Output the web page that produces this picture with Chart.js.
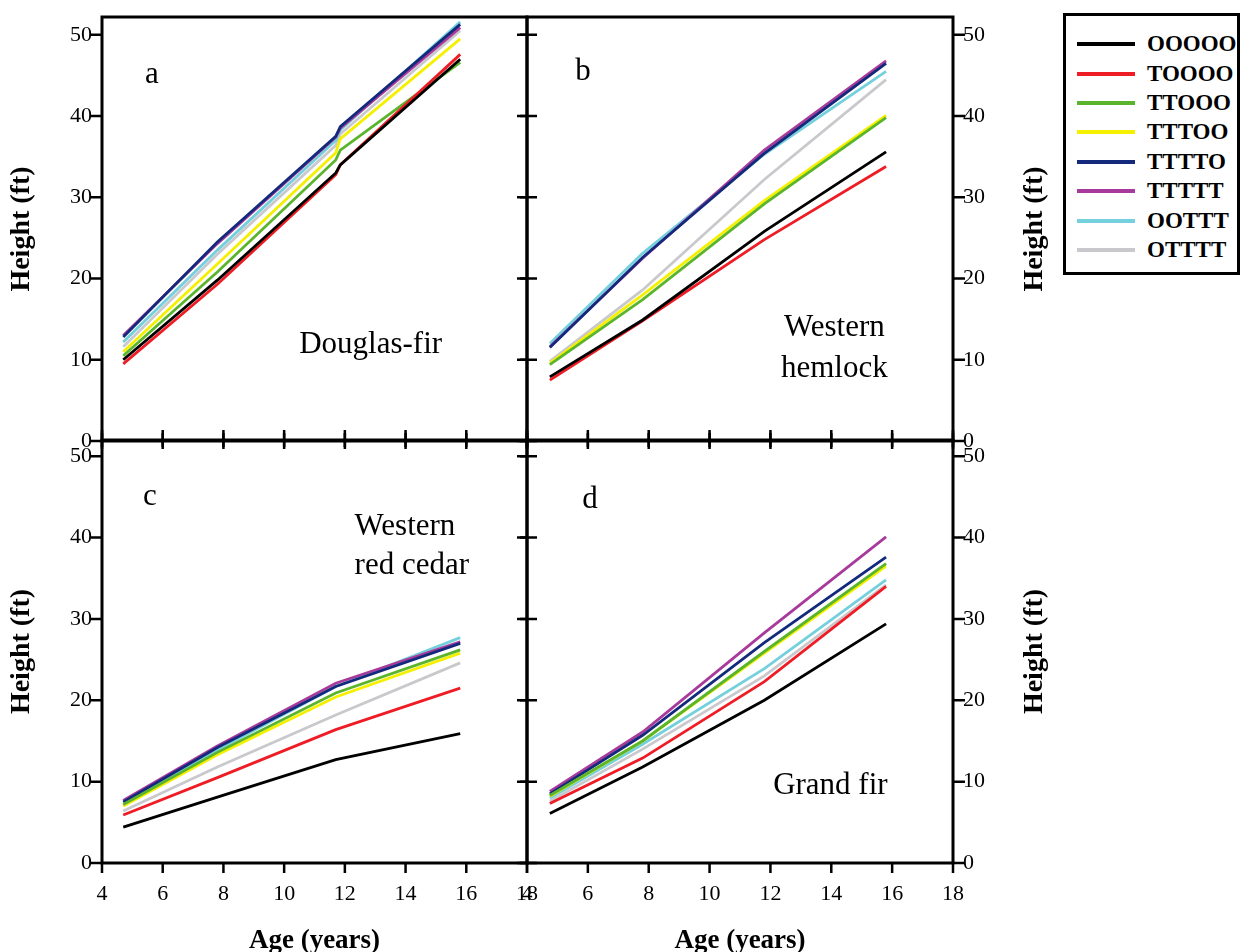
<!DOCTYPE html>
<html>
<head>
<meta charset="utf-8">
<script src="https://cdn.jsdelivr.net/npm/chart.js@4.4.0/dist/chart.umd.min.js"></script>
<style>
  html, body { margin: 0; padding: 0; background: #fff; width: 1243px; height: 952px; overflow: hidden; }
  canvas { position: absolute; }
  #legend { position: absolute; left: 1063px; top: 13px; width: 171px; height: 256px; border: 3px solid #000; background: #fff;
            font: bold 23px "Liberation Serif", "Times New Roman", serif; }
  #legend .row { position: absolute; left: 0; height: 26px; width: 171px; }
  #legend .swatch { position: absolute; left: 11px; top: 11px; width: 58px; height: 4px; }
  #legend .name { position: absolute; left: 81px; top: 0; line-height: 26px; }
</style>
</head>
<body>
<canvas id="panelA" width="560" height="470" style="left:0;top:0"></canvas>
<canvas id="panelB" width="580" height="470" style="left:480px;top:0"></canvas>
<canvas id="panelC" width="560" height="540" style="left:0;top:425px"></canvas>
<canvas id="panelD" width="580" height="540" style="left:480px;top:425px"></canvas>
<div id="legend"></div>
<script>
// treatment sequences (O = open, T = treated) and their line colours
const seriesNames = ['OOOOO', 'TOOOO', 'TTOOO', 'TTTOO', 'TTTTO', 'TTTTT', 'OOTTT', 'OTTTT'];
const seriesColors = ['#000000', '#ee1c25', '#5bb52c', '#f5f000', '#132a7c', '#a83a9c', '#74d0dc', '#c9c9cd'];

const xTicks = [4, 6, 8, 10, 12, 14, 16, 18];
const yTicks = [0, 10, 20, 30, 40, 50];

// stand age (years) and mean height (ft), one row per treatment sequence
const douglasAges = [4.7, 7.8, 11.7, 11.85, 15.8];
const douglasHeights = [
  [10.0, 19.8, 33.0, 34.0, 47.0],
  [9.5, 19.3, 32.8, 34.0, 47.6],
  [10.5, 20.8, 34.6, 35.8, 46.6],
  [11.0, 21.8, 35.5, 37.2, 49.5],
  [12.8, 24.5, 37.5, 38.7, 51.3],
  [13.0, 24.3, 37.4, 38.5, 50.9],
  [12.2, 23.5, 37.0, 38.3, 51.6],
  [11.6, 23.0, 36.4, 37.8, 50.5]
];

const hemlockAges = [4.75, 7.8, 11.8, 15.8];
const hemlockHeights = [
  [7.9, 14.9, 25.8, 35.6],
  [7.5, 14.8, 24.8, 33.8],
  [9.4, 17.4, 29.2, 39.8],
  [9.6, 18.0, 29.6, 40.1],
  [11.5, 22.6, 35.4, 46.5],
  [11.6, 22.5, 35.8, 46.8],
  [12.0, 23.1, 35.3, 45.5],
  [9.8, 18.6, 32.2, 44.5]
];

const cedarAges = [4.7, 7.8, 11.7, 15.8];
const cedarHeights = [
  [4.4, 8.1, 12.7, 15.9],
  [5.9, 10.5, 16.4, 21.5],
  [7.2, 13.6, 20.9, 26.2],
  [7.0, 13.3, 20.4, 25.8],
  [7.5, 14.2, 21.7, 27.0],
  [7.7, 14.4, 22.1, 27.2],
  [7.1, 13.9, 21.7, 27.7],
  [6.4, 11.8, 18.2, 24.6]
];

const grandAges = [4.75, 7.8, 11.8, 15.8];
const grandHeights = [
  [6.1, 11.8, 20.0, 29.4],
  [7.3, 12.9, 22.3, 34.0],
  [8.3, 15.0, 26.0, 36.8],
  [8.2, 15.0, 25.8, 36.5],
  [8.5, 15.7, 27.1, 37.6],
  [8.8, 16.1, 28.3, 40.1],
  [8.0, 14.6, 23.9, 34.8],
  [7.6, 14.0, 23.0, 34.2]
];

const SERIF = '"Liberation Serif", "Times New Roman", serif';

// box frame, tick marks that cross the frame, and the in-panel notes
const framePlugin = {
  id: 'frame',
  afterDatasetsDraw(chart, args, opts) {
    const { ctx, chartArea: a, scales } = chart;
    ctx.save();
    ctx.strokeStyle = '#000';
    ctx.lineWidth = 3;
    ctx.strokeRect(a.left, a.top, a.right - a.left, a.bottom - a.top);
    ctx.lineWidth = 2.5;
    ctx.beginPath();
    xTicks.forEach(v => {
      const px = scales.x.getPixelForValue(v);
      if (opts.top[0] + opts.top[1] > 0) {
        ctx.moveTo(px, a.top - opts.top[0]);
        ctx.lineTo(px, a.top + opts.top[1]);
      }
      ctx.moveTo(px, a.bottom - opts.bottom[1]);
      ctx.lineTo(px, a.bottom + opts.bottom[0]);
    });
    yTicks.forEach(v => {
      const py = scales.y.getPixelForValue(v);
      ctx.moveTo(a.left - opts.left[0], py);
      ctx.lineTo(a.left + opts.left[1], py);
      ctx.moveTo(a.right - opts.right[1], py);
      ctx.lineTo(a.right + opts.right[0], py);
    });
    ctx.stroke();

    ctx.fillStyle = '#000';
    ctx.textBaseline = 'middle';
    ctx.font = '31px ' + SERIF;
    opts.notes.forEach(n => {
      ctx.textAlign = n.align || 'center';
      ctx.fillText(n.text, scales.x.getPixelForValue(n.x), scales.y.getPixelForValue(n.y));
    });

    if (opts.rightTitle) {
      ctx.font = 'bold 28px ' + SERIF;
      ctx.textAlign = 'center';
      ctx.translate(a.right + opts.rightTitle, (a.top + a.bottom) / 2);
      ctx.rotate(-Math.PI / 2);
      ctx.fillText('Height (ft)', 0, 0);
    }
    ctx.restore();
  }
};

function makePanel(id, ages, heights, cfg) {
  const datasets = seriesNames.map((name, i) => ({
    label: name,
    data: ages.map((age, j) => ({ x: age, y: heights[i][j] })),
    borderColor: seriesColors[i],
    backgroundColor: seriesColors[i],
    borderWidth: 2.8,
    pointRadius: 0,
    showLine: true,
    tension: 0
  }));

  const tickFont = { family: SERIF, size: 22 };

  new Chart(document.getElementById(id), {
    type: 'scatter',
    data: { datasets: datasets },
    plugins: [framePlugin],
    options: {
      responsive: false,
      animation: false,
      devicePixelRatio: 1,
      layout: { padding: cfg.padding },
      plugins: {
        legend: { display: false },
        tooltip: { enabled: false },
        frame: cfg.frame
      },
      scales: {
        x: {
          type: 'linear',
          min: 4,
          max: 18,
          display: cfg.showX,
          grid: { display: false, drawTicks: false },
          border: { display: false },
          afterBuildTicks: s => { s.ticks = xTicks.map(v => ({ value: v })); },
          afterFit: s => {
            s.height = cfg.showX ? 102 : 0;
            s.paddingLeft = 0;
            s.paddingRight = 0;
          },
          ticks: { font: tickFont, color: '#000', padding: 18, maxRotation: 0, autoSkip: false },
          title: {
            display: cfg.showX,
            text: 'Age (years)',
            color: '#000',
            font: { family: SERIF, size: 27, weight: 'bold' },
            padding: { top: 0, bottom: 8 }
          }
        },
        y: {
          type: 'linear',
          position: cfg.yPos,
          min: 0,
          max: cfg.yMax,
          grid: { display: false, drawTicks: false },
          border: { display: false },
          afterBuildTicks: s => { s.ticks = yTicks.map(v => ({ value: v })); },
          afterFit: s => {
            s.width = cfg.yWidth;
            s.paddingTop = 0;
            s.paddingBottom = 0;
          },
          ticks: { font: tickFont, color: '#000', padding: 10 },
          title: {
            display: cfg.yPos === 'left',
            text: 'Height (ft)',
            color: '#000',
            font: { family: SERIF, size: 28, weight: 'bold' },
            padding: { top: 5, bottom: 0 }
          }
        }
      }
    }
  });
}

makePanel('panelA', douglasAges, douglasHeights, {
  padding: { left: 0, top: 17, right: 33, bottom: 29 },
  yPos: 'left', yWidth: 102, yMax: 52.2, showX: false,
  frame: {
    top: [0, 0], bottom: [8, 8], left: [11, 0], right: [0, 10],
    notes: [
      { text: 'a', x: 5.64, y: 45.1 },
      { text: 'Douglas-fir', x: 12.85, y: 11.8 }
    ]
  }
});

makePanel('panelB', hemlockAges, hemlockHeights, {
  padding: { left: 47, top: 17, right: 0, bottom: 29 },
  yPos: 'right', yWidth: 107, yMax: 52.2, showX: false,
  frame: {
    top: [0, 0], bottom: [8, 8], left: [7, 10], right: [12, 0], rightTitle: 82,
    notes: [
      { text: 'b', x: 5.84, y: 45.4 },
      { text: 'Western', x: 14.1, y: 13.9 },
      { text: 'hemlock', x: 14.1, y: 8.9 }
    ]
  }
});

makePanel('panelC', cedarAges, cedarHeights, {
  padding: { left: 0, top: 15, right: 33, bottom: 0 },
  yPos: 'left', yWidth: 102, yMax: 52, showX: true,
  frame: {
    top: [10, 7], bottom: [10, 0], left: [11, 0], right: [0, 10],
    notes: [
      { text: 'c', x: 5.58, y: 45.0 },
      { text: 'Western', x: 12.32, y: 41.3, align: 'left' },
      { text: 'red cedar', x: 12.32, y: 36.5, align: 'left' }
    ]
  }
});

makePanel('panelD', grandAges, grandHeights, {
  padding: { left: 47, top: 15, right: 0, bottom: 0 },
  yPos: 'right', yWidth: 107, yMax: 52, showX: true,
  frame: {
    top: [10, 7], bottom: [10, 0], left: [7, 10], right: [12, 0], rightTitle: 82,
    notes: [
      { text: 'd', x: 6.07, y: 44.6 },
      { text: 'Grand fir', x: 13.97, y: 9.5 }
    ]
  }
});

// legend box listing each treatment sequence
const legend = document.getElementById('legend');
const rowCentres = [28, 58, 87, 116, 146, 175, 205, 234];
seriesNames.forEach((name, i) => {
  const row = document.createElement('div');
  row.className = 'row';
  row.style.top = (rowCentres[i] - 13) + 'px';
  const sw = document.createElement('div');
  sw.className = 'swatch';
  sw.style.background = seriesColors[i];
  const label = document.createElement('div');
  label.className = 'name';
  label.textContent = name;
  row.appendChild(sw);
  row.appendChild(label);
  legend.appendChild(row);
});
</script>
</body>
</html>
